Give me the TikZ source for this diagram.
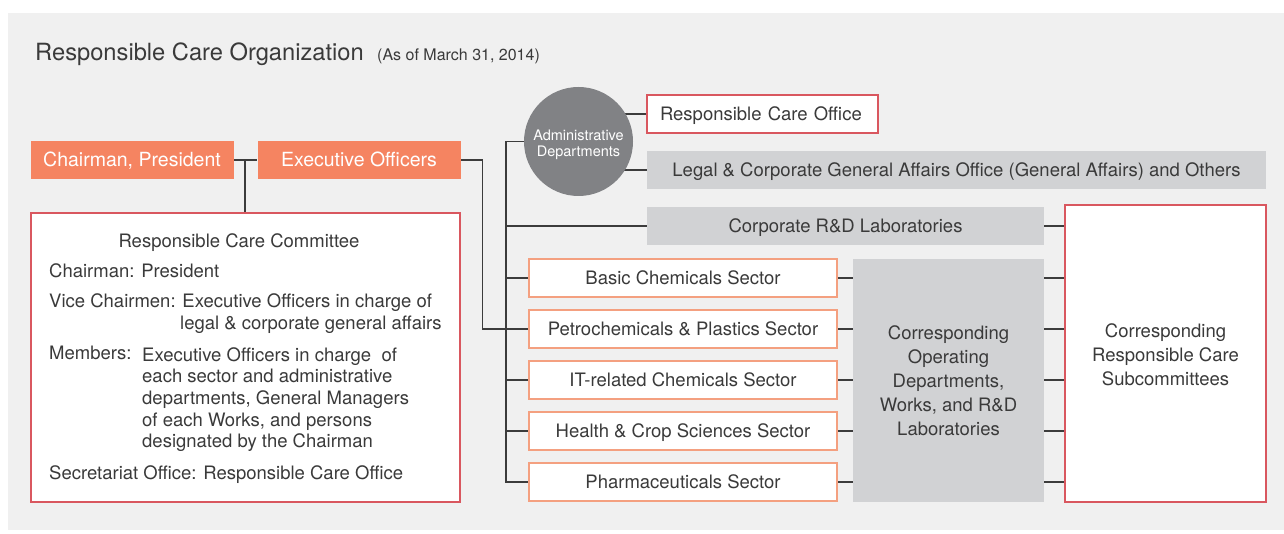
\documentclass[tikz,border=0pt]{standalone}
\usepackage{fontspec}
\setmainfont{TeX Gyre Heros}
\definecolor{bggray}{HTML}{F0F0F0}
\definecolor{orangefill}{HTML}{F58461}
\definecolor{redline}{HTML}{D9575F}
\definecolor{salmonline}{HTML}{F4A080}
\definecolor{graybox}{HTML}{D1D2D4}
\definecolor{circlegray}{HTML}{818285}
\definecolor{txt}{HTML}{3A3A3A}
\definecolor{conncol}{HTML}{3C3C3C}
\pgfdeclarelayer{bg}
\pgfdeclarelayer{lines}
\pgfsetlayers{bg,lines,main}
\tikzset{
  conn/.style={draw=conncol, line width=1.3pt},
  oneline/.style={text height=13.3pt, text depth=0pt},
  topbox/.style={rectangle, fill=orangefill, text=white, minimum width=203pt, minimum height=38pt, inner sep=0pt, text height=14pt, text depth=0pt, font=\fontsize{19.5}{22}\selectfont},
  redbox/.style={rectangle, draw=redline, line width=1.4pt, fill=white, inner sep=0pt},
  sectorbox/.style={rectangle, draw=salmonline, line width=1.4pt, fill=white, minimum width=308pt, minimum height=38pt, inner sep=0pt, oneline, text=txt, font=\fontsize{18.5}{22}\selectfont},
  greybox/.style={rectangle, fill=graybox, inner sep=0pt, text=txt, font=\fontsize{18.5}{22}\selectfont},
  ctext/.style={anchor=base west, inner sep=0pt, text=txt, font=\fontsize{18.5}{22}\selectfont},
}
\begin{document}
\begin{tikzpicture}[x=1pt, y=-1pt]
\useasboundingbox (0,0) rectangle (1284,534);
\begin{pgfonlayer}{bg}
\fill[bggray] (8,13) rectangle (1284,530);
\end{pgfonlayer}

% title
\node[anchor=base west, inner sep=0pt, text=txt, font=\fontsize{23.7}{26}\selectfont] (title) at (35,61) {Responsible Care Organization};
\node[anchor=base west, inner sep=0pt, text=txt, font=\fontsize{16}{18}\selectfont] (date) at (377,61) {(As of March 31, 2014)};

% top boxes
\node[topbox] (chair) at (132,160) {Chairman, President};
\node[topbox] (exec) at (359,160) {Executive Officers};

% committee
\node[redbox, minimum width=429pt, minimum height=289pt] (comm) at (245.5,357.5) {};
\node[ctext, anchor=base] (c0) at (239,248) {Responsible Care Committee};
\node[ctext] (c1) at (49,278) {Chairman: President};
\node[ctext] (c2) at (49,308) {Vice Chairmen: Executive Officers in charge of};
\node[ctext] (c3) at (180,330) {legal \& corporate general affairs};
\node[ctext] (c4) at (49,359) {Members:};
\node[ctext] (c5) at (142,361) {Executive Officers in charge\ \ of};
\node[ctext] (c6) at (142,382) {each sector and administrative};
\node[ctext] (c7) at (142,404) {departments, General Managers};
\node[ctext] (c8) at (142,426) {of each Works, and persons};
\node[ctext] (c9) at (142,447) {designated by the Chairman};
\node[ctext] (c10) at (49,479) {Secretariat Office: Responsible Care Office};

% administrative
\node[circle, fill=circlegray, minimum size=109pt, inner sep=0pt] (admin) at (578.5,141.5) {};
\node[inner sep=0pt, text=white, align=center, font=\fontsize{14.5}{16}\selectfont] (admintxt) at ([yshift=-3.5pt]admin.center) {Administrative\\Departments};
\node[redbox, minimum width=231pt, minimum height=38pt, text width=205pt, align=left, oneline, text=txt, font=\fontsize{18.5}{22}\selectfont] (rco) at (762.5,114) {Responsible Care Office};
\node[greybox, oneline, minimum width=619pt, minimum height=38pt] (legal) at (956.5,170) {Legal \& Corporate General Affairs Office (General Affairs) and Others};
\node[greybox, oneline, minimum width=397pt, minimum height=38pt] (rd) at (845.5,226) {Corporate R\&D Laboratories};

% sectors
\node[sectorbox] (s1) at (683,278) {Basic Chemicals Sector};
\node[sectorbox] (s2) at (683,329) {Petrochemicals \& Plastics Sector};
\node[sectorbox] (s3) at (683,380) {IT-related Chemicals Sector};
\node[sectorbox] (s4) at (683,431) {Health \& Crop Sciences Sector};
\node[sectorbox] (s5) at (683,482) {Pharmaceuticals Sector};

% corresponding operating
\node[greybox, minimum width=191pt, minimum height=243pt, align=center, font=\fontsize{18.5}{24}\selectfont] (ops) at (948.5,380.5) {Corresponding\\Operating\\Departments,\\Works, and R\&D\\Laboratories};

% subcommittees
\node[redbox, minimum width=201pt, minimum height=297pt] (rcs) at (1165.5,353.5) {};
\node[inner sep=0pt, align=center, text=txt, font=\fontsize{18.5}{24}\selectfont] (rcstxt) at (1165.5,355) {Corresponding\\Responsible Care\\Subcommittees};

% connectors
\begin{pgfonlayer}{lines}
\coordinate (j1) at (245,160);
\coordinate (bus) at (506,141.5);
\draw[conn] (chair.east) -- (exec.west);
\draw[conn] (j1) -- (j1 |- comm.north);
\draw[conn] (exec.east) -- ++(22,0) |- (s2.west);
\draw[conn] (admin.center) -- (bus) -- (bus |- s5.west) -- (s5.west);
\draw[conn] (bus |- rd.west) -- (rd.west);
\foreach \s in {s1,s2,s3,s4} { \draw[conn] (bus |- \s.west) -- (\s.west); }
\draw[conn] (admin.center |- rco.west) -- (rco.west);
\draw[conn] (admin.center |- legal.west) -- (legal.west);
\draw[conn] (rd.east) -- (rd.east -| rcs.west);
\foreach \s in {s1,s2,s3,s4,s5} {
  \draw[conn] (\s.east) -- (\s.east -| ops.west);
  \draw[conn] (\s.east -| ops.east) -- (\s.east -| rcs.west);
}
\end{pgfonlayer}
\end{tikzpicture}
\end{document}
